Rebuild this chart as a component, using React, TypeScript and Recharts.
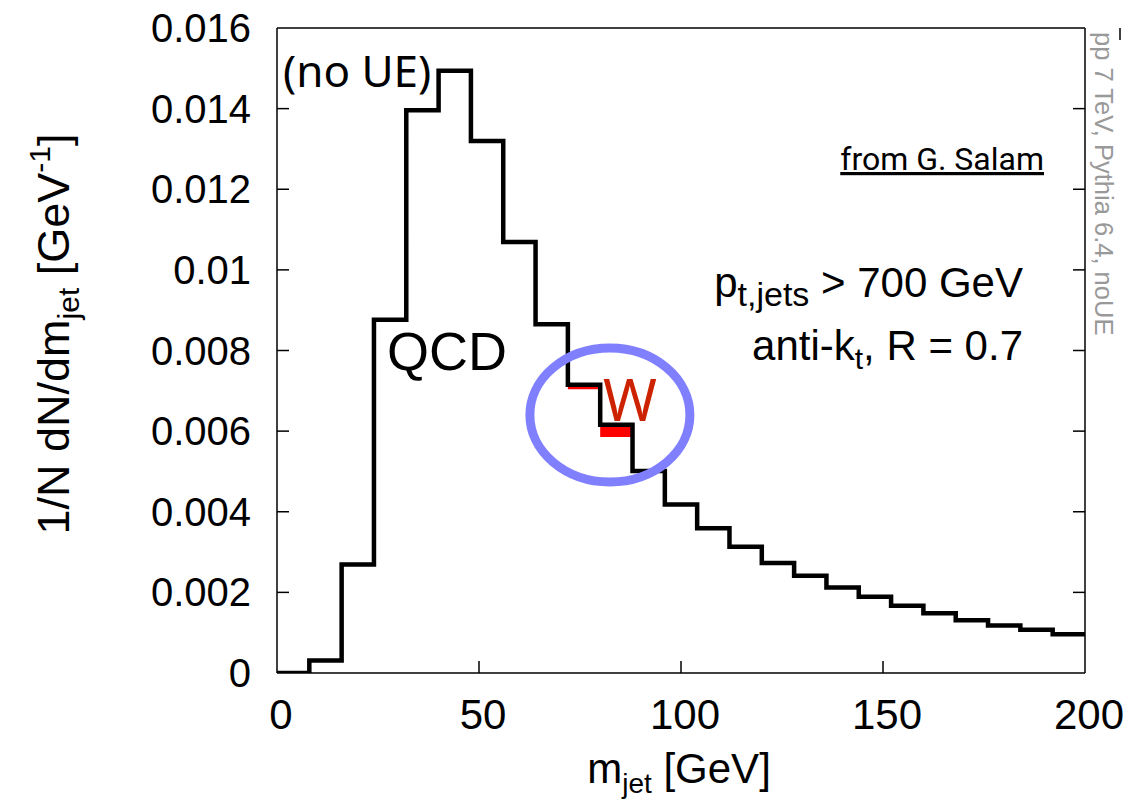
import React from "react";
import { LineChart, Line, XAxis, YAxis, ReferenceDot, ReferenceLine } from "recharts";

// bin lower edges of m_jet [GeV]
const binStarts = [0, 8, 16, 24, 32, 40, 48, 56, 64, 72, 80, 88, 96, 104, 112, 120, 128, 136, 144, 152, 160, 168, 176, 184, 192];
const binEndLast = 200;
// QCD histogram 1/N dN/dm_jet
const qcdValues = [0, 0.00031, 0.00269, 0.00876, 0.01396, 0.01494, 0.0132, 0.01069, 0.00865, 0.00715, 0.00616, 0.00501, 0.00418, 0.00359, 0.00313, 0.00273, 0.00241, 0.00212, 0.00189, 0.00167, 0.00148, 0.00131, 0.00118, 0.00107, 0.00096];
// W (red) bins visible under the QCD line
const wStarts = [72, 80];
const wEnds = [80, 88];
const wValues = [0.00709, 0.00598];
const wWidths = [4, 10];

const xTicks = [0, 50, 100, 150, 200];
const xInnerTicks = [50, 100, 150];
const yTicks = [0, 0.002, 0.004, 0.006, 0.008, 0.01, 0.012, 0.014, 0.016];
const yInnerTicks = [0.002, 0.004, 0.006, 0.008, 0.01, 0.012, 0.014];

const ellipseCenter = { m: 82.4, v: 0.0064 };

const data = [
  ...binStarts.map((m, i) => ({ m, qcd: qcdValues[i] })),
  { m: binEndLast, qcd: qcdValues[qcdValues.length - 1] },
];

const SANS = "'Liberation Sans', Arial, Helvetica, sans-serif";
const TICK = 12;

const fmtY = (v: number) => String(Number(v.toFixed(3)));

const LeftTick = (props: any) => {
  const { x, y, payload } = props;
  const v = payload.value;
  const inner = v > 0 && v < 0.016;
  return (
    <g>
      {inner && <line x1={x} x2={x + TICK} y1={y} y2={y} stroke="#000" strokeWidth={1.5} />}
      <text x={x - 26} y={y + 14} textAnchor="end" fontSize={40} fontFamily={SANS} fill="#000">
        {fmtY(v)}
      </text>
    </g>
  );
};

const RightTick = (props: any) => {
  const { x, y } = props;
  return <line x1={x} x2={x - TICK} y1={y} y2={y} stroke="#000" strokeWidth={1.5} />;
};

const BottomTick = (props: any) => {
  const { x, y, payload } = props;
  const v = payload.value;
  const inner = v > 0 && v < 200;
  return (
    <g>
      {inner && <line x1={x} x2={x} y1={y} y2={y - TICK} stroke="#000" strokeWidth={1.5} />}
      <text x={x + 4} y={y + 56} textAnchor="middle" fontSize={42} fontFamily={SANS} fill="#000">
        {v}
      </text>
    </g>
  );
};

const TopTick = (props: any) => {
  const { x, y } = props;
  return <line x1={x} x2={x} y1={y} y2={y + TICK} stroke="#000" strokeWidth={1.5} />;
};

const EllipseShape = (props: any) => {
  const { cx, cy } = props;
  return <ellipse cx={cx} cy={cy} rx={80} ry={67} fill="none" stroke="#8080ff" strokeWidth={9} />;
};

export default function App() {
  const W = 1132;
  const H = 807;
  return (
    <div style={{ position: "relative", width: 1116, height: 791 }}>
      <div style={{ position: "absolute", left: -8, top: -8, width: W, height: H }}>
        <LineChart width={W} height={H} data={data} margin={{ top: 0, right: 0, bottom: 0, left: 0 }}>
          <XAxis
            dataKey="m"
            type="number"
            domain={[0, 200]}
            ticks={xTicks}
            height={134}
            tickSize={0}
            tickMargin={0}
            tick={<BottomTick />}
            axisLine={{ stroke: "#000", strokeWidth: 1.5 }}
            tickLine={false}
            allowDataOverflow
          />
          <XAxis
            xAxisId="top"
            orientation="top"
            type="number"
            domain={[0, 200]}
            ticks={xInnerTicks}
            height={28}
            tickSize={0}
            tickMargin={0}
            tick={<TopTick />}
            axisLine={{ stroke: "#000", strokeWidth: 1.5 }}
            tickLine={false}
            allowDataOverflow
          />
          <YAxis
            type="number"
            domain={[0, 0.016]}
            ticks={yTicks}
            width={277}
            tickSize={0}
            tickMargin={0}
            tick={<LeftTick />}
            axisLine={{ stroke: "#000", strokeWidth: 1.5 }}
            tickLine={false}
            allowDataOverflow
          />
          <YAxis
            yAxisId="right"
            orientation="right"
            type="number"
            domain={[0, 0.016]}
            ticks={yInnerTicks}
            width={47}
            tickSize={0}
            tickMargin={0}
            tick={<RightTick />}
            axisLine={{ stroke: "#000", strokeWidth: 1.5 }}
            tickLine={false}
            allowDataOverflow
          />
          <ReferenceDot
            x={ellipseCenter.m}
            y={ellipseCenter.v}
            r={1}
            shape={<EllipseShape />}
            isFront={false}
          />
          {wStarts.map((s, i) => (
            <ReferenceLine
              key={"w" + i}
              segment={[
                { x: s, y: wValues[i] },
                { x: wEnds[i], y: wValues[i] },
              ]}
              stroke="#ff0000"
              strokeWidth={wWidths[i]}
            />
          ))}
          <Line
            dataKey="qcd"
            type="stepAfter"
            stroke="#000"
            strokeWidth={4.5}
            strokeLinejoin="miter"
            dot={false}
            isAnimationActive={false}
          />
        </LineChart>
        <svg
          width={W}
          height={H}
          style={{ position: "absolute", left: 0, top: 0, pointerEvents: "none" }}
        >
          {/* y axis label */}
          <text
            transform="translate(69,334) rotate(-90)"
            textAnchor="middle"
            fontSize={45}
            fontFamily={SANS}
            fill="#000"
          >
            1/N dN/dm
            <tspan fontSize={30} dy={10}>jet</tspan>
            <tspan dy={-10}> [GeV</tspan>
            <tspan fontSize={30} dy={-19}>-1</tspan>
            <tspan dy={19}>]</tspan>
          </text>
          {/* x axis label */}
          <text x={679} y={783} textAnchor="middle" fontSize={42} fontFamily={SANS} fill="#000">
            m<tspan fontSize={28} dy={10}>jet</tspan>
            <tspan dy={-10}> [GeV]</tspan>
          </text>
          <text x={283} y={87} fontSize={44} fontFamily="'Noto Sans', 'Open Sans', sans-serif" fill="#000">
            (no UE)
          </text>
          <text x={387} y={370} fontSize={54} fontFamily={SANS} fill="#000">
            QCD
          </text>
          <text x={603} y={421} fontSize={58} fontFamily="'Noto Sans', 'Open Sans', sans-serif" fill="#cc2200">
            W
          </text>
          <text
            x={1044}
            y={170}
            textAnchor="end"
            fontSize={32}
            fontFamily="Roboto, 'Open Sans', sans-serif"
            fill="#000"
            style={{ textDecoration: "underline" }}
          >
            from G. Salam
          </text>
          <text x={1023} y={297} textAnchor="end" fontSize={42} fontFamily={SANS} fill="#000">
            p<tspan fontSize={34} dy={9}>t,jets</tspan>
            <tspan dy={-9}> &gt; 700 GeV</tspan>
          </text>
          <text x={1023} y={360} textAnchor="end" fontSize={42} fontFamily={SANS} fill="#000">
            anti-k<tspan fontSize={30} dy={9}>t</tspan>
            <tspan dy={-9}>, R = 0.7</tspan>
          </text>
          <text
            transform="translate(1095,32) rotate(90)"
            fontSize={25.5}
            fontFamily={SANS}
            fill="#999999"
          >
            pp 7 TeV, Pythia 6.4, noUE
          </text>
        </svg>
      </div>
    </div>
  );
}
